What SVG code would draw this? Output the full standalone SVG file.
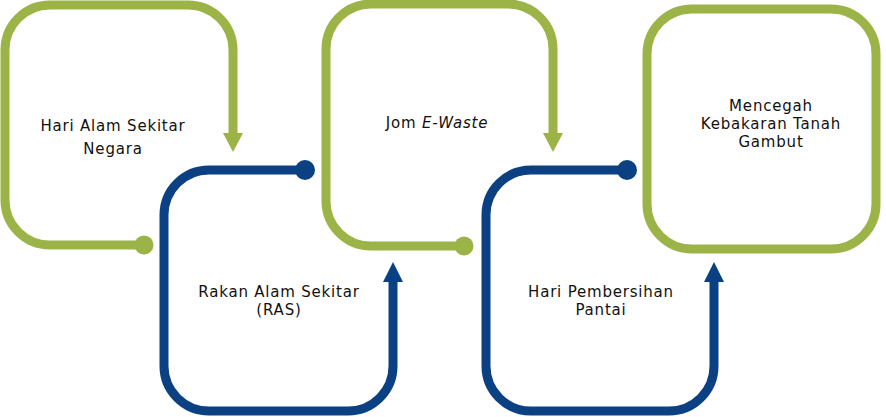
<svg xmlns="http://www.w3.org/2000/svg" width="886" height="417" viewBox="0 0 886 417">
<style>
.g{fill:none;stroke:#9cb447;stroke-width:9}
.b{fill:none;stroke:#0b4183;stroke-width:9}
.gf{fill:#9cb447}
.bf{fill:#0b4183}
text{font-family:"DejaVu Sans","Liberation Sans",sans-serif;font-size:15px;letter-spacing:0.8px;fill:#111;text-anchor:middle}
</style>
<rect width="886" height="417" fill="#fff"/>
<g id="node1">
<path class="g" d="M144,245 H50 A45,45 0 0 1 5,200 V50 A45,45 0 0 1 50,5 H188 A45,45 0 0 1 233,50 V135"/>
<path class="gf" d="M223,133 H243 L233,152 Z"/>
<circle class="gf" cx="144" cy="245" r="9.5"/>
<text x="113" y="131">Hari Alam Sekitar</text>
<text x="113" y="154">Negara</text>
</g>
<g id="node2">
<path class="b" d="M305,170 H209 A45,45 0 0 0 164,215 V366 A45,45 0 0 0 209,411 H348 A45,45 0 0 0 393,366 V280"/>
<path class="bf" d="M383,282 H403 L393,262 Z"/>
<circle class="bf" cx="305" cy="170" r="10"/>
<text x="279" y="297">Rakan Alam Sekitar</text>
<text x="279" y="315">(RAS)</text>
</g>
<g id="node3">
<path class="g" d="M464,246 H371 A45,45 0 0 1 326,201 V49 A45,45 0 0 1 371,4 H508 A45,45 0 0 1 553,49 V135"/>
<path class="gf" d="M543,133 H563 L553,152 Z"/>
<circle class="gf" cx="464" cy="246" r="9.5"/>
<text x="437" y="128">Jom <tspan font-style="italic">E-Waste</tspan></text>
</g>
<g id="node4">
<path class="b" d="M627,170 H531 A45,45 0 0 0 486,215 V366 A45,45 0 0 0 531,411 H669 A45,45 0 0 0 714,366 V280"/>
<path class="bf" d="M704,282 H724 L714,262 Z"/>
<circle class="bf" cx="627" cy="170" r="10"/>
<text x="601" y="297">Hari Pembersihan</text>
<text x="601" y="315">Pantai</text>
</g>
<g id="node5">
<rect class="g" x="647" y="9" width="229" height="240" rx="45"/>
<text x="771" y="111">Mencegah</text>
<text x="771" y="129">Kebakaran Tanah</text>
<text x="771" y="147">Gambut</text>
</g>
<g id="connectors"></g>
</svg>
